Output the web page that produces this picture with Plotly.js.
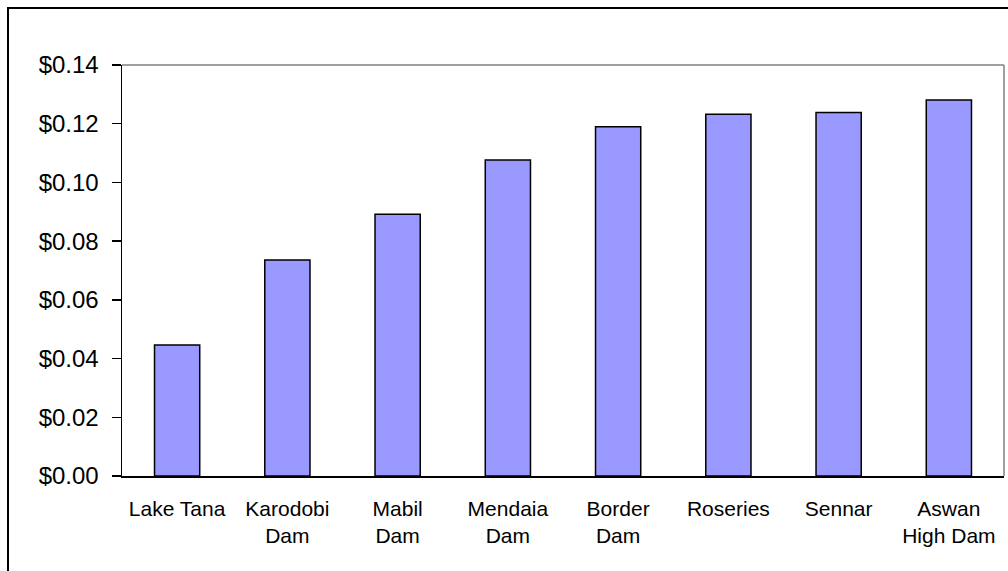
<!DOCTYPE html>
<html>
<head>
<meta charset="utf-8">
<script src="https://cdn.plot.ly/plotly-3.0.1.min.js"></script>
<style>
  html, body { margin: 0; padding: 0; background: #ffffff; }
  #chart { width: 1008px; height: 571px; }
</style>
</head>
<body>
<div id="chart"></div>
<script>
const categories = ["Lake Tana", "Karodobi<br>Dam", "Mabil<br>Dam", "Mendaia<br>Dam", "Border<br>Dam", "Roseries", "Sennar", "Aswan<br>High Dam"];
const values = [0.0446, 0.0736, 0.0892, 0.1076, 0.1190, 0.1232, 0.1238, 0.1281];
const yTickValues = [0, 0.02, 0.04, 0.06, 0.08, 0.10, 0.12, 0.14];
const yTickLabels = ["$0.00", "$0.02", "$0.04", "$0.06", "$0.08", "$0.10", "$0.12", "$0.14"];

const W = 1008, H = 571;
const m = {l: 122, r: 4, t: 65, b: 95};
const pw = W - m.l - m.r, ph = H - m.t - m.b;
const px = v => (v - m.l) / pw;
const py = v => 1 - (v - m.t) / ph;

const trace = {
  type: "bar",
  x: categories,
  y: values,
  marker: {color: "#9999FF", line: {color: "#000000", width: 1.5}},
  hoverinfo: "x+y"
};

const layout = {
  width: W, height: H,
  margin: m,
  paper_bgcolor: "#ffffff",
  plot_bgcolor: "#ffffff",
  showlegend: false,
  bargap: 0.59,
  font: {family: "Liberation Sans, Arial, sans-serif", color: "#000000"},
  xaxis: {
    showline: true, linecolor: "#000000", linewidth: 1.5,
    showgrid: false, zeroline: false, ticks: "",
    tickfont: {size: 21, family: "Liberation Sans, Arial, sans-serif"},
    ticklabelstandoff: 13,
    fixedrange: true
  },
  yaxis: {
    range: [0, 0.14],
    tickvals: yTickValues, ticktext: yTickLabels,
    showline: true, linecolor: "#000000", linewidth: 1.5,
    ticks: "outside", ticklen: 9, tickwidth: 1.5, tickcolor: "#000000",
    showgrid: false, zeroline: false,
    tickfont: {size: 24, family: "Liberation Sans, Arial, sans-serif"},
    ticklabelstandoff: 8,
    fixedrange: true
  },
  shapes: [
    {type: "line", xref: "paper", yref: "paper", x0: 0, x1: 1, y0: 1, y1: 1, line: {color: "#808080", width: 1.5}},
    {type: "line", xref: "paper", yref: "paper", x0: 1, x1: 1, y0: 0, y1: 1, line: {color: "#808080", width: 1.5}},
    {type: "rect", xref: "paper", yref: "paper", x0: px(8), x1: px(1012), y0: py(576), y1: py(8), line: {color: "#000000", width: 2}, fillcolor: "rgba(0,0,0,0)", layer: "above"}
  ]
};

Plotly.newPlot("chart", [trace], layout, {displayModeBar: false, staticPlot: true});
</script>
</body>
</html>
